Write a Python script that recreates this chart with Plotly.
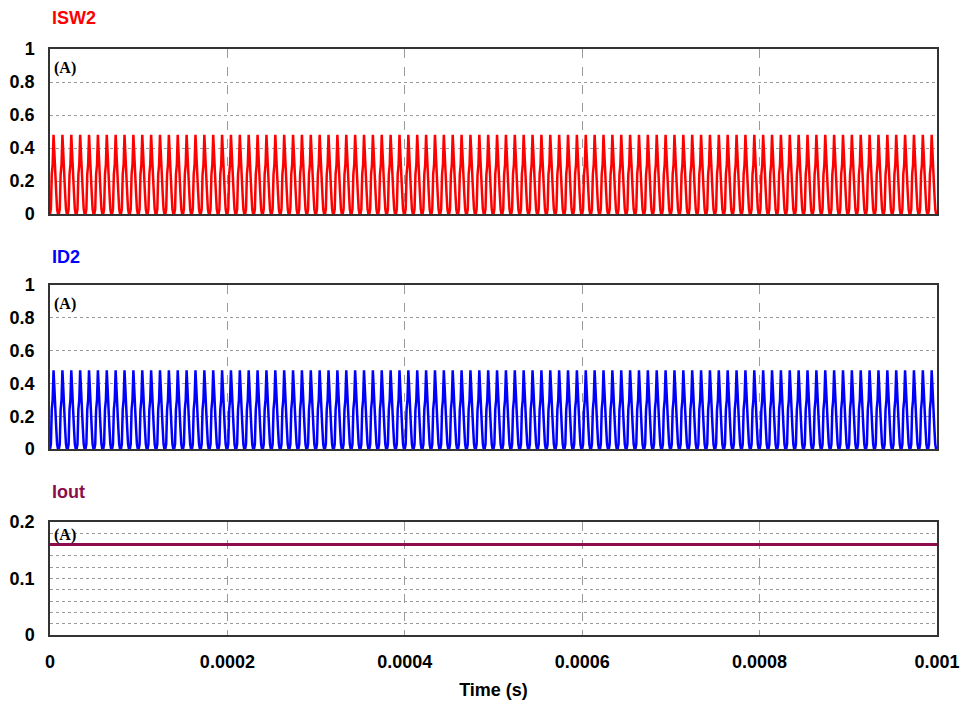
import numpy as np
import plotly.graph_objects as go

# ---- data ----
t_end = 0.001                 # s
n_cycles = 100                # switching periods visible (100 kHz)
isw2_cycle = [0.0, 0.03, 0.24, 0.30, 0.48, 0.32, 0.21, 0.13, 0.03, 0.0]   # A, one period
id2_cycle = [0.0, 0.03, 0.24, 0.30, 0.48, 0.32, 0.21, 0.13, 0.03, 0.0]    # A, one period
iout_level = [0.16, 0.16]     # A, start / end
x_ticks = [0, 0.0002, 0.0004, 0.0006, 0.0008, 0.001]
x_tick_labels = ["0", "0.0002", "0.0004", "0.0006", "0.0008", "0.001"]
y_ticks_top = [0, 0.2, 0.4, 0.6, 0.8, 1.0]
y_tick_labels_top = ["0", "0.2", "0.4", "0.6", "0.8", "1"]
y_ticks_bot = [0, 0.1, 0.2]
y_tick_labels_bot = ["0", "0.1", "0.2"]
titles = ["ISW2", "ID2", "Iout"]
colors = ["#FF0000", "#0000FF", "#8C0C4C"]

isw2 = np.tile(isw2_cycle, n_cycles).tolist() + [isw2_cycle[0]]
id2 = np.tile(id2_cycle, n_cycles).tolist() + [id2_cycle[0]]
t_wave = np.linspace(0, t_end, len(isw2))
t_out = [0, t_end]

FONT = "Liberation Sans, Arial, sans-serif"
GRID = "#9a9a9a"
BORDER = "#333333"

fig = go.Figure()
fig.add_trace(go.Scatter(x=t_wave, y=isw2, mode="lines", line=dict(color=colors[0], width=2.5),
                         xaxis="x", yaxis="y", showlegend=False))
fig.add_trace(go.Scatter(x=t_wave, y=id2, mode="lines", line=dict(color=colors[1], width=2.5),
                         xaxis="x2", yaxis="y2", showlegend=False))
fig.add_trace(go.Scatter(x=t_out, y=iout_level, mode="lines", line=dict(color=colors[2], width=3),
                         xaxis="x3", yaxis="y3", showlegend=False))

tickfont = dict(family=FONT, size=18, color="black", weight="bold")

def xax(show_labels, anchor):
    return dict(range=[0, t_end], tickvals=x_ticks, ticktext=x_tick_labels,
                showticklabels=show_labels, tickfont=tickfont, anchor=anchor,
                showgrid=True, gridcolor=GRID, griddash="dash", gridwidth=1,
                showline=True, linecolor=BORDER, linewidth=1.5, mirror=True,
                zeroline=False, ticks="", domain=[0, 1], automargin=False,
                ticklabelstandoff=10)

def yax(domain, rng, vals, texts, anchor, minor=None):
    d = dict(range=rng, tickvals=vals, ticktext=texts, tickfont=tickfont, domain=domain,
             anchor=anchor, showgrid=True, gridcolor=GRID, griddash="dot", gridwidth=1,
             showline=True, linecolor=BORDER, linewidth=1.5, mirror=True,
             zeroline=False, ticks="", ticklabelstandoff=10, automargin=False)
    if minor:
        d["minor"] = minor
    return d

H_PLOT = 586.0
def dom(top_px, bot_px):
    return [(635 - bot_px) / H_PLOT, (635 - top_px) / H_PLOT]

fig.update_layout(
    width=963, height=708,
    margin=dict(l=50, r=26, t=49, b=73),
    paper_bgcolor="white", plot_bgcolor="white",
    xaxis=xax(False, "y"),
    xaxis2=xax(False, "y2"),
    xaxis3=dict(xax(True, "y3"),
                title=dict(text="Time (s)", font=dict(family=FONT, size=18, color="black", weight="bold"),
                           standoff=12)),
    yaxis=yax(dom(49, 214), [0, 1], y_ticks_top, y_tick_labels_top, "x"),
    yaxis2=yax(dom(285, 449), [0, 1], y_ticks_top, y_tick_labels_top, "x2"),
    yaxis3=yax(dom(522, 635), [0, 0.2], y_ticks_bot, y_tick_labels_bot, "x3",
               minor=dict(dtick=0.02, showgrid=True, gridcolor=GRID, griddash="dot", gridwidth=1)),
)

title_y = [18, 257, 492]
label_y = [68, 304, 535]
for i in range(3):
    fig.add_annotation(x=(50 - 50) / 887, y=(635 - title_y[i]) / H_PLOT, xref="paper", yref="paper",
                       text=titles[i], showarrow=False, xanchor="left", yanchor="middle",
                       font=dict(family=FONT, size=18, color=colors[i], weight="bold"))
    fig.add_annotation(x=(52 - 50) / 887, y=(635 - label_y[i]) / H_PLOT, xref="paper", yref="paper",
                       text="(A)", showarrow=False, xanchor="left", yanchor="middle",
                       font=dict(family="Liberation Serif, Times New Roman, serif", size=16,
                                 color="black", weight="bold"))

fig.write_html("out.html", config={"displayModeBar": False},
               post_script="document.body.style.margin='0';")
